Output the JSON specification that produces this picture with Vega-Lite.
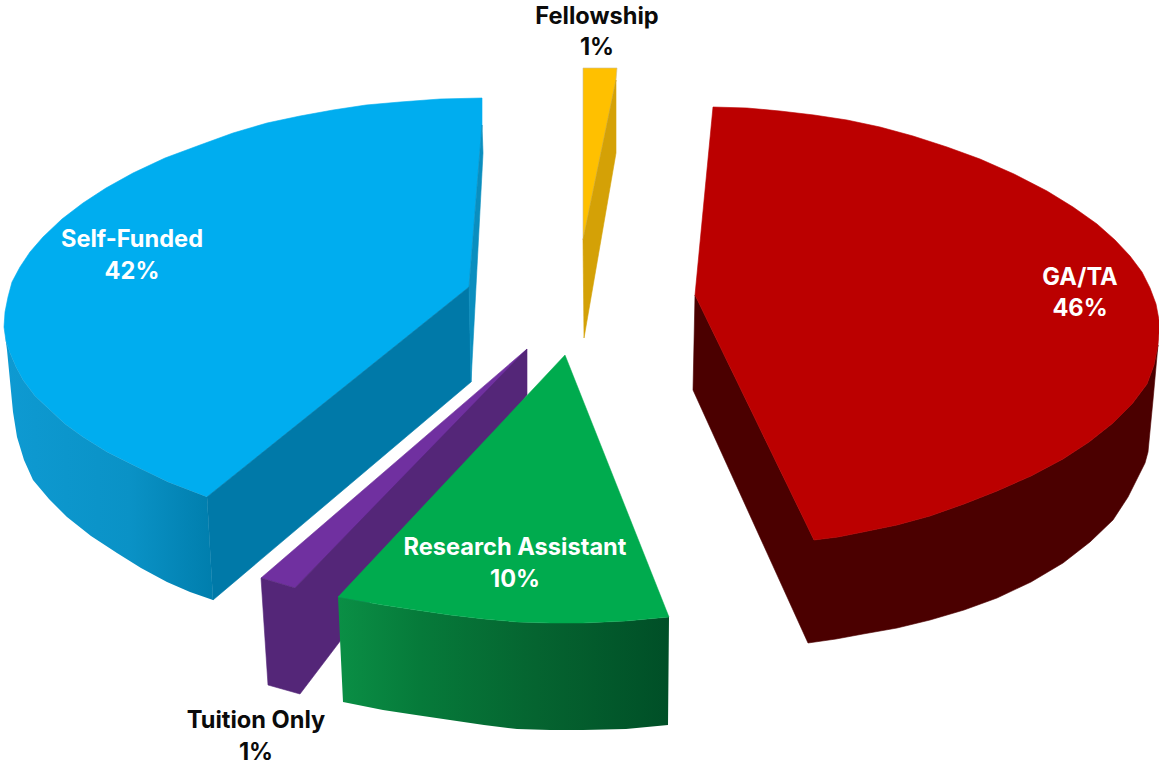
{"$schema":"https://vega.github.io/schema/vega-lite/v6.json","width":1159,"height":767,"padding":0,"autosize":{"type":"none"},"background":"white","view":{"stroke":null},
"datasets":{"outline":[
{"piece":"blue top","i":1,"x":482,"y":98},{"piece":"blue top","i":2,"x":440,"y":99},{"piece":"blue top","i":3,"x":400,"y":102},{"piece":"blue top","i":4,"x":366,"y":105},{"piece":"blue top","i":5,"x":333,"y":110},{"piece":"blue top","i":6,"x":300,"y":116},{"piece":"blue top","i":7,"x":267,"y":123},{"piece":"blue top","i":8,"x":233,"y":133},{"piece":"blue top","i":9,"x":200,"y":145},{"piece":"blue top","i":10,"x":165,"y":158},{"piece":"blue top","i":11,"x":133,"y":173},{"piece":"blue top","i":12,"x":106,"y":188},{"piece":"blue top","i":13,"x":83,"y":203},{"piece":"blue top","i":14,"x":62,"y":219},{"piece":"blue top","i":15,"x":43,"y":237},{"piece":"blue top","i":16,"x":30,"y":252},{"piece":"blue top","i":17,"x":20,"y":267},{"piece":"blue top","i":18,"x":12,"y":282},{"piece":"blue top","i":19,"x":8,"y":297},{"piece":"blue top","i":20,"x":5,"y":312},{"piece":"blue top","i":21,"x":4,"y":327},{"piece":"blue top","i":22,"x":6,"y":341},{"piece":"blue top","i":23,"x":10,"y":353},{"piece":"blue top","i":24,"x":16,"y":367},{"piece":"blue top","i":25,"x":23,"y":380},{"piece":"blue top","i":26,"x":35,"y":396},{"piece":"blue top","i":27,"x":50,"y":410},{"piece":"blue top","i":28,"x":65,"y":424},{"piece":"blue top","i":29,"x":83,"y":437},{"piece":"blue top","i":30,"x":107,"y":452},{"piece":"blue top","i":31,"x":133,"y":465},{"piece":"blue top","i":32,"x":168,"y":482},{"piece":"blue top","i":33,"x":207,"y":497},{"piece":"blue top","i":34,"x":469,"y":287},{"piece":"blue top","i":35,"x":482,"y":125},
{"piece":"blue cut","i":1,"x":207,"y":497},{"piece":"blue cut","i":2,"x":469,"y":287},{"piece":"blue cut","i":3,"x":471,"y":382},{"piece":"blue cut","i":4,"x":213,"y":600},
{"piece":"blue sliver","i":1,"x":482,"y":125},{"piece":"blue sliver","i":2,"x":483,"y":153},{"piece":"blue sliver","i":3,"x":471,"y":382},{"piece":"blue sliver","i":4,"x":469,"y":287},
{"piece":"blue wall","i":1,"x":4,"y":327},{"piece":"blue wall","i":2,"x":6,"y":341},{"piece":"blue wall","i":3,"x":10,"y":353},{"piece":"blue wall","i":4,"x":16,"y":367},{"piece":"blue wall","i":5,"x":23,"y":380},{"piece":"blue wall","i":6,"x":35,"y":396},{"piece":"blue wall","i":7,"x":50,"y":410},{"piece":"blue wall","i":8,"x":65,"y":424},{"piece":"blue wall","i":9,"x":83,"y":437},{"piece":"blue wall","i":10,"x":107,"y":452},{"piece":"blue wall","i":11,"x":133,"y":465},{"piece":"blue wall","i":12,"x":168,"y":482},{"piece":"blue wall","i":13,"x":207,"y":497},{"piece":"blue wall","i":14,"x":213,"y":600},{"piece":"blue wall","i":15,"x":190,"y":592},{"piece":"blue wall","i":16,"x":167,"y":582},{"piece":"blue wall","i":17,"x":141,"y":568},{"piece":"blue wall","i":18,"x":117,"y":553},{"piece":"blue wall","i":19,"x":91,"y":536},{"piece":"blue wall","i":20,"x":67,"y":517},{"piece":"blue wall","i":21,"x":49,"y":499},{"piece":"blue wall","i":22,"x":33,"y":480},{"piece":"blue wall","i":23,"x":24,"y":460},{"piece":"blue wall","i":24,"x":17,"y":437},{"piece":"blue wall","i":25,"x":13,"y":412},{"piece":"blue wall","i":26,"x":7,"y":350},
{"piece":"purple top","i":1,"x":261,"y":578},{"piece":"purple top","i":2,"x":295,"y":588},{"piece":"purple top","i":3,"x":510,"y":370},{"piece":"purple top","i":4,"x":527,"y":349},
{"piece":"purple wall","i":1,"x":261,"y":578},{"piece":"purple wall","i":2,"x":295,"y":588},{"piece":"purple wall","i":3,"x":527,"y":349},{"piece":"purple wall","i":4,"x":527,"y":395},{"piece":"purple wall","i":5,"x":300,"y":694},{"piece":"purple wall","i":6,"x":268,"y":685},
{"piece":"green wall","i":1,"x":338,"y":597},{"piece":"green wall","i":2,"x":360,"y":601},{"piece":"green wall","i":3,"x":383,"y":605},{"piece":"green wall","i":4,"x":416,"y":610},{"piece":"green wall","i":5,"x":450,"y":615},{"piece":"green wall","i":6,"x":484,"y":619},{"piece":"green wall","i":7,"x":517,"y":622},{"piece":"green wall","i":8,"x":550,"y":623},{"piece":"green wall","i":9,"x":583,"y":623},{"piece":"green wall","i":10,"x":626,"y":621},{"piece":"green wall","i":11,"x":669,"y":617},{"piece":"green wall","i":12,"x":668,"y":725},{"piece":"green wall","i":13,"x":626,"y":729},{"piece":"green wall","i":14,"x":583,"y":730},{"piece":"green wall","i":15,"x":550,"y":730},{"piece":"green wall","i":16,"x":517,"y":729},{"piece":"green wall","i":17,"x":484,"y":725},{"piece":"green wall","i":18,"x":450,"y":720},{"piece":"green wall","i":19,"x":416,"y":715},{"piece":"green wall","i":20,"x":383,"y":710},{"piece":"green wall","i":21,"x":343,"y":702},
{"piece":"green top","i":1,"x":565,"y":355},{"piece":"green top","i":2,"x":669,"y":617},{"piece":"green top","i":3,"x":626,"y":621},{"piece":"green top","i":4,"x":583,"y":623},{"piece":"green top","i":5,"x":550,"y":623},{"piece":"green top","i":6,"x":517,"y":622},{"piece":"green top","i":7,"x":484,"y":619},{"piece":"green top","i":8,"x":450,"y":615},{"piece":"green top","i":9,"x":416,"y":610},{"piece":"green top","i":10,"x":383,"y":605},{"piece":"green top","i":11,"x":360,"y":601},{"piece":"green top","i":12,"x":338,"y":597},
{"piece":"red wall","i":1,"x":695,"y":295},{"piece":"red wall","i":2,"x":814,"y":540},{"piece":"red wall","i":3,"x":838,"y":537},{"piece":"red wall","i":4,"x":863,"y":532},{"piece":"red wall","i":5,"x":897,"y":525},{"piece":"red wall","i":6,"x":930,"y":516},{"piece":"red wall","i":7,"x":964,"y":504},{"piece":"red wall","i":8,"x":997,"y":491},{"piece":"red wall","i":9,"x":1031,"y":476},{"piece":"red wall","i":10,"x":1063,"y":459},{"piece":"red wall","i":11,"x":1089,"y":442},{"piece":"red wall","i":12,"x":1113,"y":423},{"piece":"red wall","i":13,"x":1132,"y":404},{"piece":"red wall","i":14,"x":1147,"y":384},{"piece":"red wall","i":15,"x":1154,"y":365},{"piece":"red wall","i":16,"x":1158,"y":345},{"piece":"red wall","i":17,"x":1153,"y":400},{"piece":"red wall","i":18,"x":1148,"y":452},{"piece":"red wall","i":19,"x":1145,"y":463},{"piece":"red wall","i":20,"x":1140,"y":473},{"piece":"red wall","i":21,"x":1128,"y":497},{"piece":"red wall","i":22,"x":1113,"y":520},{"piece":"red wall","i":23,"x":1090,"y":542},{"piece":"red wall","i":24,"x":1063,"y":563},{"piece":"red wall","i":25,"x":1031,"y":582},{"piece":"red wall","i":26,"x":997,"y":598},{"piece":"red wall","i":27,"x":964,"y":610},{"piece":"red wall","i":28,"x":930,"y":620},{"piece":"red wall","i":29,"x":897,"y":628},{"piece":"red wall","i":30,"x":863,"y":634},{"piece":"red wall","i":31,"x":836,"y":639},{"piece":"red wall","i":32,"x":808,"y":643},{"piece":"red wall","i":33,"x":693,"y":390},
{"piece":"red top","i":1,"x":713,"y":107},{"piece":"red top","i":2,"x":747,"y":108},{"piece":"red top","i":3,"x":780,"y":111},{"piece":"red top","i":4,"x":814,"y":115},{"piece":"red top","i":5,"x":847,"y":120},{"piece":"red top","i":6,"x":880,"y":127},{"piece":"red top","i":7,"x":913,"y":136},{"piece":"red top","i":8,"x":947,"y":147},{"piece":"red top","i":9,"x":980,"y":159},{"piece":"red top","i":10,"x":1014,"y":174},{"piece":"red top","i":11,"x":1047,"y":191},{"piece":"red top","i":12,"x":1073,"y":207},{"piece":"red top","i":13,"x":1097,"y":224},{"piece":"red top","i":14,"x":1115,"y":240},{"piece":"red top","i":15,"x":1130,"y":256},{"piece":"red top","i":16,"x":1142,"y":272},{"piece":"red top","i":17,"x":1150,"y":288},{"piece":"red top","i":18,"x":1156,"y":304},{"piece":"red top","i":19,"x":1159,"y":320},{"piece":"red top","i":20,"x":1159,"y":333},{"piece":"red top","i":21,"x":1158,"y":345},{"piece":"red top","i":22,"x":1154,"y":365},{"piece":"red top","i":23,"x":1147,"y":384},{"piece":"red top","i":24,"x":1132,"y":404},{"piece":"red top","i":25,"x":1113,"y":423},{"piece":"red top","i":26,"x":1089,"y":442},{"piece":"red top","i":27,"x":1063,"y":459},{"piece":"red top","i":28,"x":1031,"y":476},{"piece":"red top","i":29,"x":997,"y":491},{"piece":"red top","i":30,"x":964,"y":504},{"piece":"red top","i":31,"x":930,"y":516},{"piece":"red top","i":32,"x":897,"y":525},{"piece":"red top","i":33,"x":863,"y":532},{"piece":"red top","i":34,"x":838,"y":537},{"piece":"red top","i":35,"x":814,"y":540},{"piece":"red top","i":36,"x":695,"y":295},
{"piece":"yellow top","i":1,"x":583,"y":68},{"piece":"yellow top","i":2,"x":617,"y":68},{"piece":"yellow top","i":3,"x":616,"y":80},{"piece":"yellow top","i":4,"x":583,"y":240},
{"piece":"yellow wall","i":1,"x":616,"y":80},{"piece":"yellow wall","i":2,"x":616,"y":153},{"piece":"yellow wall","i":3,"x":584,"y":338},{"piece":"yellow wall","i":4,"x":583,"y":240}
],
"labels":[
{"category":"Fellowship","share":1,"line":"Fellowship","x":597,"y":17,"tone":"dark"},{"category":"Fellowship","share":1,"line":"1%","x":597,"y":48,"tone":"dark"},
{"category":"Self-Funded","share":42,"line":"Self-Funded","x":132,"y":240,"tone":"light"},{"category":"Self-Funded","share":42,"line":"42%","x":132,"y":272,"tone":"light"},
{"category":"GA/TA","share":46,"line":"GA/TA","x":1080,"y":278,"tone":"light"},{"category":"GA/TA","share":46,"line":"46%","x":1080,"y":309,"tone":"light"},
{"category":"Research Assistant","share":10,"line":"Research Assistant","x":515,"y":548,"tone":"light"},{"category":"Research Assistant","share":10,"line":"10%","x":515,"y":580,"tone":"light"},
{"category":"Tuition Only","share":1,"line":"Tuition Only","x":256,"y":721,"tone":"dark"},{"category":"Tuition Only","share":1,"line":"1%","x":256,"y":753,"tone":"dark"}
]},
"encoding":{"x":{"field":"x","type":"quantitative","scale":{"domain":[0,1159],"nice":false,"zero":false},"axis":null},"y":{"field":"y","type":"quantitative","scale":{"domain":[767,0],"nice":false,"zero":false},"axis":null}},
"layer":[
{"data":{"name":"outline"},"transform":[{"filter":"indexof(['blue cut','blue sliver','purple top','purple wall','red wall','red top','yellow top','yellow wall','blue top'],datum.piece)>=0"}],
"mark":{"type":"line","interpolate":"linear-closed","strokeWidth":0.6,"point":false},
"encoding":{"order":{"field":"i","type":"quantitative"},"detail":{"field":"piece"},
"fill":{"field":"piece","type":"nominal","legend":null,"scale":{"domain":["blue top","blue cut","blue sliver","purple wall","purple top","red wall","red top","yellow top","yellow wall"],"range":["#00ADEF","#0079A8","#0A8EBF","#542678","#7030A0","#4B0000","#BB0000","#FFC000","#D4A106"]}},
"stroke":{"field":"piece","type":"nominal","legend":null,"scale":{"domain":["blue top","blue cut","blue sliver","purple wall","purple top","red wall","red top","yellow top","yellow wall"],"range":["#00ADEF","#0079A8","#0A8EBF","#542678","#7030A0","#4B0000","#BB0000","#C9BE9A","#D4A106"]}}}},
{"data":{"name":"outline"},"transform":[{"filter":"datum.piece==='blue wall'"}],
"mark":{"type":"line","interpolate":"linear-closed","strokeWidth":0,"fill":{"gradient":"linear","x1":0,"x2":1,"y1":0,"y2":0,"stops":[{"offset":0,"color":"#0E9AD2"},{"offset":0.6,"color":"#0A92C6"},{"offset":1,"color":"#007EAD"}]}},
"encoding":{"order":{"field":"i","type":"quantitative"}}},
{"data":{"name":"outline"},"transform":[{"filter":"datum.piece==='green wall'"}],
"mark":{"type":"line","interpolate":"linear-closed","strokeWidth":0,"fill":{"gradient":"linear","x1":0,"x2":1,"y1":0,"y2":0,"stops":[{"offset":0,"color":"#0A8F45"},{"offset":0.25,"color":"#067A3A"},{"offset":0.6,"color":"#056430"},{"offset":1,"color":"#004F27"}]}},
"encoding":{"order":{"field":"i","type":"quantitative"}}},
{"data":{"name":"outline"},"transform":[{"filter":"datum.piece==='green top'"}],
"mark":{"type":"line","interpolate":"linear-closed","strokeWidth":0.5,"stroke":"#00AB4E","fill":"#00AB4E"},
"encoding":{"order":{"field":"i","type":"quantitative"}}},
{"data":{"name":"labels"},
"mark":{"type":"text","font":"Inter","fontSize":23.6,"fontWeight":700,"align":"center","baseline":"middle"},
"encoding":{"text":{"field":"line"},"color":{"field":"tone","type":"nominal","legend":null,"scale":{"domain":["dark","light"],"range":["#0B0B0B","#FFFFFF"]}}}}
]}
